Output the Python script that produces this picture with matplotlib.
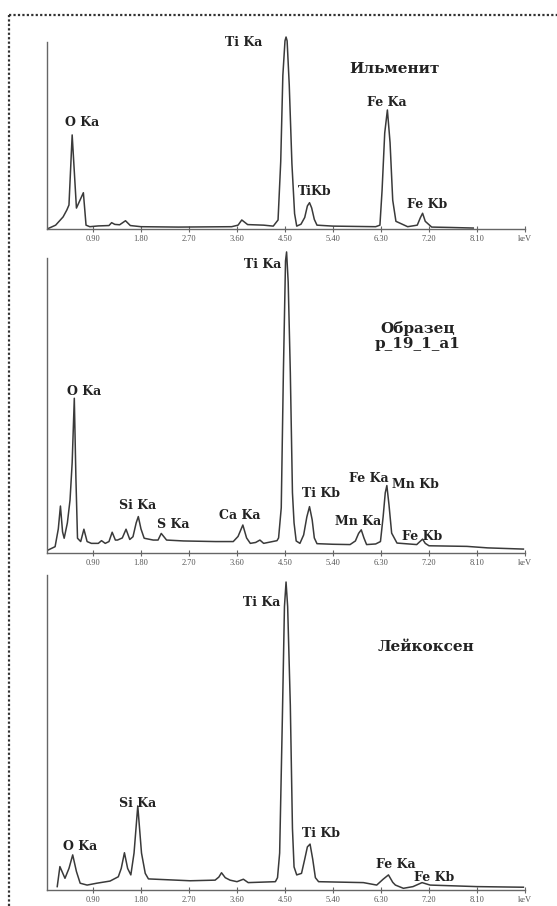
"""EDS spectra: ilmenite, sample p_19_1_a1, leucoxene."""
import matplotlib
matplotlib.use('Agg')
import matplotlib.pyplot as plt
from matplotlib.lines import Line2D

# --- data (keV, relative counts, Ti Ka = 100) ---
ilm_kev = [0.04, 0.20, 0.34, 0.41, 0.45, 0.51, 0.59, 0.72, 0.77, 0.84, 1.00, 1.20,
           1.25, 1.31, 1.40, 1.51, 1.60, 1.80, 2.50, 3.50, 3.62, 3.69, 3.80, 4.10,
           4.28, 4.37, 4.42, 4.46, 4.50, 4.52, 4.54, 4.58, 4.63, 4.68, 4.72, 4.80,
           4.87, 4.92, 4.96, 5.00, 5.05, 5.10, 5.40, 6.20, 6.28, 6.32, 6.37, 6.42,
           6.47, 6.52, 6.58, 6.80, 6.98, 7.04, 7.08, 7.13, 7.25, 7.60, 8.03]
ilm_cnt = [0.0, 2.0, 6.3, 9.9, 12.5, 49.0, 10.9, 18.9, 2.0, 1.2, 1.6, 1.8,
           3.3, 2.4, 2.2, 4.3, 1.8, 1.2, 1.0, 1.2, 2.0, 4.7, 2.3, 2.0,
           1.5, 4.7, 35.0, 80.0, 98.0, 100.0, 98.0, 75.0, 34.0, 8.0, 1.5, 2.5,
           6.0, 12.0, 13.7, 11.0, 5.0, 2.0, 1.5, 1.2, 2.0, 20.0, 50.0, 62.0,
           45.0, 15.0, 4.0, 1.2, 2.0, 6.0, 8.2, 4.0, 1.0, 0.8, 0.5]

smp_kev = [0.06, 0.19, 0.25, 0.29, 0.33, 0.36, 0.42, 0.47, 0.51, 0.55, 0.58, 0.61,
           0.67, 0.73, 0.79, 0.87, 1.00, 1.06, 1.13, 1.20, 1.26, 1.32, 1.36, 1.45,
           1.52, 1.59, 1.65, 1.71, 1.75, 1.80, 1.86, 2.03, 2.12, 2.18, 2.28, 2.60,
           3.20, 3.53, 3.62, 3.71, 3.78, 3.85, 3.95, 4.03, 4.10, 4.35, 4.38, 4.43,
           4.47, 4.51, 4.53, 4.56, 4.60, 4.64, 4.67, 4.71, 4.78, 4.85, 4.91, 4.96,
           5.01, 5.05, 5.10, 5.40, 5.72, 5.82, 5.88, 5.93, 5.98, 6.03, 6.20, 6.29,
           6.34, 6.38, 6.41, 6.45, 6.50, 6.60, 6.97, 7.03, 7.08, 7.13, 7.20, 7.91,
           8.30, 8.97]
smp_cnt = [1.0, 2.1, 8.0, 15.6, 7.0, 4.9, 10.0, 17.6, 30.0, 51.4, 25.0, 4.9,
           3.8, 7.9, 3.8, 3.2, 3.2, 4.1, 3.2, 3.8, 6.9, 4.3, 4.3, 5.0,
           7.9, 4.5, 5.4, 10.0, 12.1, 8.0, 4.9, 4.3, 4.3, 6.5, 4.3, 4.0,
           3.8, 3.8, 5.5, 9.3, 5.0, 3.2, 3.5, 4.3, 3.2, 4.1, 5.0, 15.0,
           60.0, 97.0, 100.0, 90.0, 60.0, 20.0, 10.0, 4.0, 3.2, 6.0, 12.0, 15.4,
           11.0, 5.0, 3.1, 2.9, 2.8, 4.0, 6.5, 7.7, 5.0, 2.8, 3.0, 3.8,
           12.0, 20.0, 22.4, 16.0, 6.6, 3.3, 2.8, 3.8, 4.6, 3.2, 2.4, 2.2,
           1.7, 1.3]

leu_kev = [0.23, 0.28, 0.375, 0.45, 0.52, 0.59, 0.66, 0.79, 0.97, 1.22, 1.375, 1.43,
           1.49, 1.55, 1.61, 1.67, 1.74, 1.81, 1.88, 1.94, 2.72, 3.19, 3.26, 3.31,
           3.38, 3.47, 3.60, 3.72, 3.81, 4.32, 4.36, 4.40, 4.45, 4.49, 4.52, 4.55,
           4.60, 4.64, 4.67, 4.72, 4.81, 4.87, 4.92, 4.97, 5.02, 5.07, 5.13, 5.97,
           6.22, 6.34, 6.44, 6.52, 6.57, 6.72, 6.90, 7.07, 7.22, 8.10, 8.97]
leu_cnt = [1.1, 7.6, 3.8, 7.0, 11.4, 6.0, 2.2, 1.6, 2.2, 2.9, 4.3, 7.0,
           12.1, 7.0, 4.9, 12.0, 27.3, 12.0, 5.4, 3.6, 3.0, 3.2, 4.2, 5.6,
           4.0, 3.2, 2.7, 3.5, 2.4, 2.7, 4.0, 12.0, 55.0, 92.0, 100.0, 92.0,
           60.0, 20.0, 7.5, 4.9, 5.4, 10.0, 14.0, 14.9, 10.0, 4.0, 2.7, 2.4,
           1.6, 3.5, 4.9, 2.5, 1.6, 0.55, 1.1, 2.4, 1.6, 1.1, 0.9]

tick_pos = [0.9, 1.8, 2.7, 3.6, 4.5, 5.4, 6.3, 7.2, 8.1, 9.0]
tick_lab = ["0.90", "1.80", "2.70", "3.60", "4.50", "5.40", "6.30", "7.20", "8.10", "keV"]

# peak labels: (text, keV, counts)
ilm_labels = [("Ti Ka", 3.73, 96.9), ("O Ka", 0.69, 55.7), ("TiKb", 5.06, 19.3),
              ("Fe Ka", 6.41, 66.1), ("Fe Kb", 7.16, 13.0)]
smp_labels = [("Ti Ka", 4.09, 95.7), ("O Ka", 0.73, 53.5), ("Si Ka", 1.73, 15.9),
              ("S Ka", 2.40, 9.3), ("Ca Ka", 3.66, 12.3), ("Ti Kb", 5.18, 19.6),
              ("Mn Ka", 5.87, 10.6), ("Fe Ka", 6.08, 24.9), ("Mn Kb", 6.94, 22.6),
              ("Fe Kb", 7.07, 5.6)]
leu_labels = [("Ti Ka", 4.07, 93.2), ("Si Ka", 1.74, 28.2), ("O Ka", 0.66, 14.0),
              ("Ti Kb", 5.18, 18.2), ("Fe Ka", 6.58, 8.4), ("Fe Kb", 7.29, 4.2)]

W, H = 557, 906
fig = plt.figure(figsize=(W / 100, H / 100), dpi=100)

LINE = "#3a3a3a"
AXC = "#666666"
TXT = "#222222"

# (kev, counts, labels, title, title pos, bottom px, height px, ylim top, spine top)
panels = [
    (ilm_kev, ilm_cnt, ilm_labels, "Ильменит", (6.56, 83.3), 229, 201, 104.7, 97.4),
    (smp_kev, smp_cnt, smp_labels, "Образец\np_19_1_a1", (6.98, 72.1), 553, 308, 102.3, 98.0),
    (leu_kev, leu_cnt, leu_labels, "Лейкоксен", (7.14, 78.9), 890, 320, 103.9, 102.3),
]

x_left_px = 47.1
x_right_px = 525.0
for kev, cnt, labels, title, tpos, base_px, h_px, ytop, stop in panels:
    ax = fig.add_axes([x_left_px / W, (H - base_px) / H,
                       (x_right_px - x_left_px) / W, h_px / H])
    ax.plot(kev, cnt, color=LINE, linewidth=1.1, solid_joinstyle="round")
    ax.set_xlim(0.04, 9.0)
    ax.set_ylim(0, ytop)
    ax.spines[["top", "right"]].set_visible(False)
    ax.spines["left"].set_bounds(0, stop)
    for s in ("left", "bottom"):
        ax.spines[s].set_color(AXC)
        ax.spines[s].set_linewidth(1.0)
    ax.set_yticks([])
    ax.set_xticks(tick_pos)
    ax.set_xticklabels(tick_lab, fontsize=6, family="Liberation Serif", color="#555555")
    ax.tick_params(axis="x", direction="inout", length=4, width=0.8, color=AXC, pad=2)
    ax.patch.set_visible(False)

    for txt, x, y in labels:
        ax.text(x, y, txt, ha="center", va="center", fontsize=9,
                fontweight="bold", family="DejaVu Serif", color=TXT)
    ax.text(tpos[0], tpos[1], title, ha="center", va="center", fontsize=11,
            fontweight="bold", family="DejaVu Serif", color=TXT, linespacing=1.15)

# dotted frame (left and top edges; right/bottom fall outside the image)
fig.add_artist(Line2D([9 / W, 9 / W], [0, 1 - 15 / H], color="#333333",
                      linewidth=1.6, linestyle=(0, (1, 1))))
fig.add_artist(Line2D([9 / W, 1], [1 - 15 / H, 1 - 15 / H], color="#333333",
                      linewidth=1.6, linestyle=(0, (1, 1))))

fig.savefig("out.png", dpi=100)
